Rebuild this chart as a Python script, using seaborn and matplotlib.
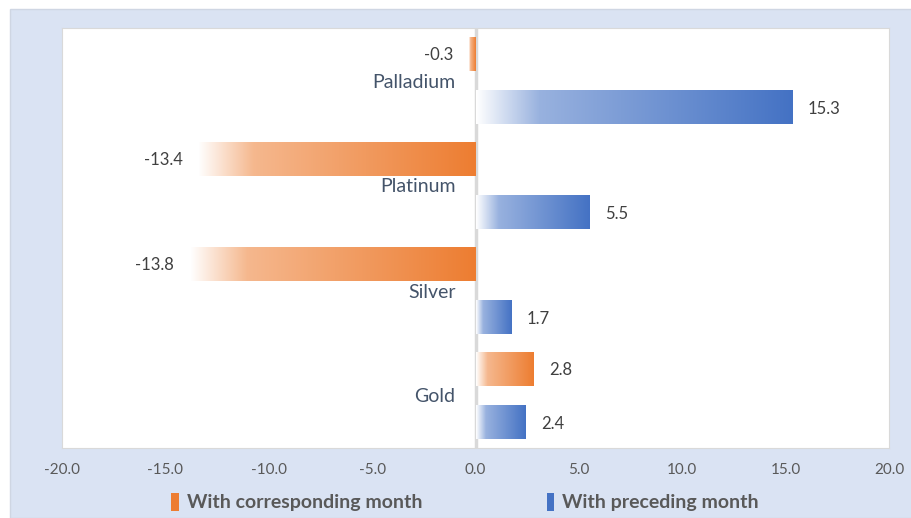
import numpy as np
import pandas as pd
import matplotlib
matplotlib.use("Agg")
import matplotlib.pyplot as plt
import seaborn as sns
from matplotlib.colors import LinearSegmentedColormap, to_rgb
from matplotlib.patches import Rectangle, Patch

# ---- data ----
metals = ["Palladium", "Platinum", "Silver", "Gold"]
corresponding = [-0.3, -13.4, -13.8, 2.8]
preceding = [15.3, 5.5, 1.7, 2.4]
series = ["With corresponding month", "With preceding month"]
xticks = [-20, -15, -10, -5, 0, 5, 10, 15, 20]

df = pd.DataFrame({
    "metal": metals * 2,
    "series": [series[0]] * len(metals) + [series[1]] * len(metals),
    "value": corresponding + preceding,
})

ORANGE = "#ed7d31"
BLUE = "#4472c4"
colors = {series[0]: ORANGE, series[1]: BLUE}

sns.set_theme(style="white")
plt.rcParams["font.family"] = ["Lato", "DejaVu Sans"]

W, H = 912, 518
fig = plt.figure(figsize=(W / 100, H / 100), dpi=100)
fig.patch.set_facecolor("white")
bg = Rectangle((10 / W, 0), 1, 1 - 9 / H, transform=fig.transFigure,
               facecolor="#dae3f3", edgecolor="#cfd6e3", lw=1, zorder=-10)
fig.patches.append(bg)

ax = fig.add_axes([62 / W, 1 - 448 / H, (889 - 62) / W, (448 - 28) / H])
ax.set_zorder(1)
ax.set_facecolor("white")

sns.barplot(data=df, y="metal", x="value", hue="series", order=metals,
            hue_order=series, palette=colors, orient="h", width=1.02, gap=0.37,
            saturation=1, ax=ax, legend=False, errorbar=None)


def grad_cmap(c):
    r, g, b = to_rgb(c)
    light = tuple(1 - 0.55 * (1 - v) for v in (r, g, b))
    return LinearSegmentedColormap.from_list(
        "g", [(0.0, (1, 1, 1)), (0.2, light), (1.0, (r, g, b))])


cm_or = grad_cmap(ORANGE)
cm_bl = grad_cmap(BLUE)
grad = np.linspace(0, 1, 256).reshape(1, -1)

for patch in list(ax.patches):
    fc = patch.get_facecolor()
    cmap = cm_or if fc[0] > fc[2] else cm_bl
    x0, y0 = patch.get_x(), patch.get_y()
    w, h = patch.get_width(), patch.get_height()
    xl, xr = min(x0, x0 + w), max(x0, x0 + w)
    ax.imshow(grad, extent=[xl, xr, y0, y0 + h], aspect="auto", cmap=cmap,
              origin="lower", zorder=3, interpolation="bilinear")
    patch.set_facecolor("none")
    patch.set_edgecolor("none")
    val = xr if (xr > 0 and xl >= 0) else xl
    off = 11.5 if val >= 0 else -11.5
    ax.annotate(f"{val:.1f}", xy=(val, y0 + h / 2), xytext=(off, 0),
                textcoords="offset points", ha="left" if val >= 0 else "right",
                va="center_baseline", fontsize=12, color="#404040")

ax.axvline(0, color="#d9d9d9", lw=2.5, zorder=2)

for i, m in enumerate(metals):
    ax.annotate(m, xy=(0, i), xytext=(-14.5, 0), textcoords="offset points",
                ha="right", va="center_baseline", fontsize=14, color="#44546a")

ax.set_xlim(-20, 20)
ax.set_ylim(3.5, -0.5)
ax.set_xticks(xticks)
ax.set_xticklabels([f"{v:.1f}" for v in xticks])
ax.set_yticks([])
ax.set_xlabel("")
ax.set_ylabel("")
ax.tick_params(axis="x", length=0, pad=10.5, labelsize=11, labelcolor="#595959")
for s in ax.spines.values():
    s.set_visible(True)
    s.set_color("#d9d9d9")
    s.set_linewidth(0.8)

handles = [Patch(facecolor=ORANGE, edgecolor="none"), Patch(facecolor=BLUE, edgecolor="none")]
leg = fig.legend(handles, series, loc="center", bbox_to_anchor=(465 / W, 1 - 502 / H),
                 ncol=2, frameon=False, handlelength=0.4, handleheight=1.1,
                 handletextpad=0.4, columnspacing=6.4,
                 prop={"weight": "bold", "size": 14})
for t in leg.get_texts():
    t.set_color("#595959")

fig.savefig("out.png", dpi=100, facecolor=fig.get_facecolor())
